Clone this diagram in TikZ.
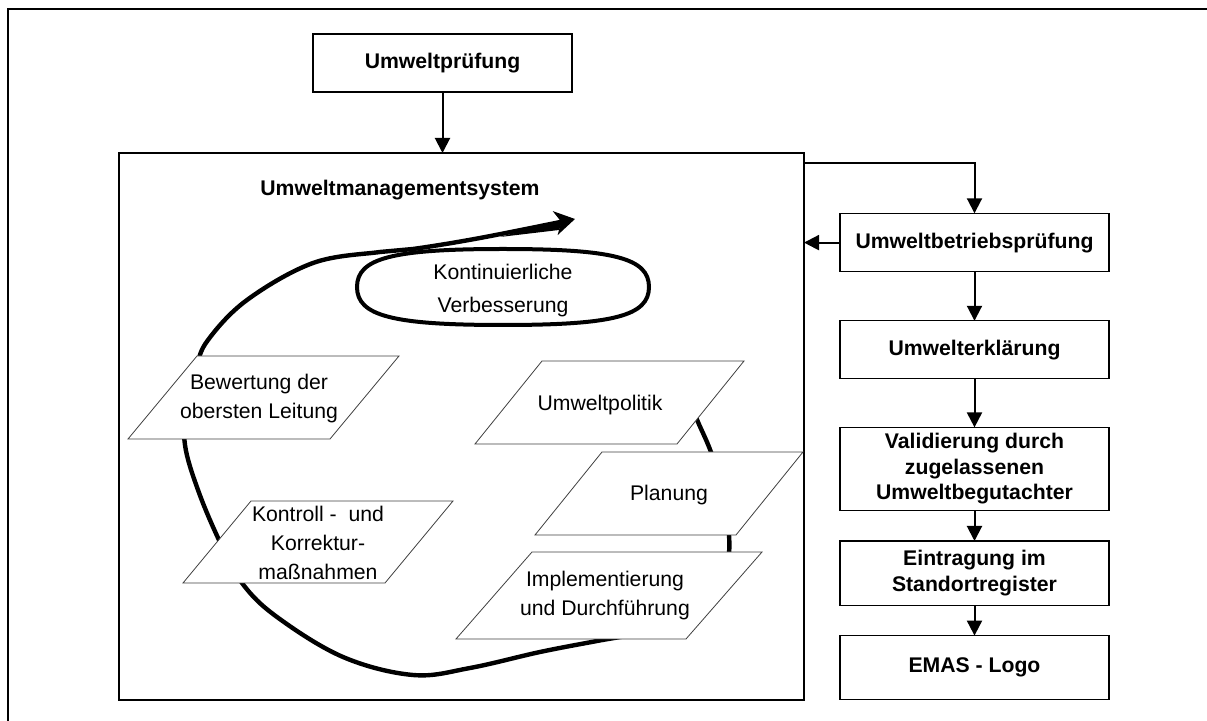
\documentclass[tikz,border=0pt]{standalone}
\usepackage{fontspec}
\setmainfont{Liberation Sans}
\usetikzlibrary{arrows.meta}

\begin{document}
\begin{tikzpicture}[x=0.5pt,y=-0.5pt,
    kasten/.style={draw=black,line width=0.6pt,inner sep=0pt,outer sep=0pt,
      minimum width=134.5pt,align=center,
      font=\fontsize{10.6}{12.75}\selectfont\bfseries},
    raute/.style={draw=black!75,line width=0.4pt,fill=white},
    schrift/.style={font=\fontsize{10.6}{14.5}\selectfont,align=center},
    pfeil/.style={line width=1pt,-{Triangle[length=7.5pt,width=7.5pt]}},
    spirale/.style={line width=2.2pt,line cap=round}
  ]
  \useasboundingbox (0,0) rectangle (1207,721);
  \draw[line width=1.2pt] (8,721) -- (8,9) -- (1207,9);

  % top box and the system frame
  \node[kasten,minimum width=129.5pt,minimum height=29pt] (pruefung)
    at (442.5,63) {Umweltprüfung};
  \node[draw,line width=0.6pt,inner sep=0pt,outer sep=0pt,
    minimum width=342.5pt,minimum height=273.5pt] (ums) at (461.5,426.5) {};
  \node[font=\fontsize{10.6}{12.75}\selectfont\bfseries] (umstitel)
    at (400,190) {Umweltmanagementsystem};

  % improvement loop
  \draw[line width=2pt] (357,287)
    .. controls (357,258) and (393,249) .. (503,249)
    .. controls (613,249) and (649,258) .. (649,287)
    .. controls (649,316) and (613,325) .. (503,325)
    .. controls (393,325) and (357,316) .. (357,287) -- cycle;
  \node[schrift,font=\fontsize{10.6}{16.5}\selectfont] (verbesserung)
    at (503,291) {Kontinuierliche\\Verbesserung};

  \draw[spirale,-{Stealth[length=10pt,width=12pt,inset=3pt]}]
    plot[smooth,tension=0.6] coordinates {
      (688,398) (698,422) (712,455) (723,497) (729,535) (727,562)
      (712,595) (680,620) (640,633) (597,641) (540,652) (470,668)
      (413,675) (343,657) (277,617) (242,583) (219,540) (198,490)
      (185,445) (186,405) (196,368) (208,340) (247,300) (313,263)
      (380,252) (413,249) (480,238) (575,219)};
  \fill (500,237) -- (563,220) -- (559,230) -- cycle;

  % PDCA steps
  \foreach \n/\bx/\by/\w/\s/\h/\tx/\ty/\txt in {
      bewertung/128/439/202/69/83/259/399/{Bewertung der\\obersten Leitung},
      kontroll/183/583/202/68/82/318/543/{Kontroll -\ \ und\\Korrektur-\\maßnahmen},
      politik/475/444/202/67/83/600/405/{Umweltpolitik},
      planung/535/535/201/67/83/669/495/{Planung},
      implement/456/639/230/76/87/605/596/{Implementierung\\und Durchführung}}
  {
    \path[raute] (\bx,\by) -- ++(\w,0) -- ++(\s,-\h) -- ++(-\w,0) -- cycle;
    \node[schrift] (\n) at (\tx,\ty) {\txt};
  }

  % EMAS chain
  \node[kasten,minimum height=29.3pt] (betrieb) at (974.5,242.6)
    {Umweltbetriebsprüfung};
  \node[kasten,minimum height=29pt] (erklaerung) at (974.5,349.8)
    {Umwelterklärung};
  \node[kasten,minimum height=41.5pt] (validierung) at (974.5,468.9)
    {Validierung durch\\zugelassenen\\Umweltbegutachter};
  \node[kasten,minimum height=32.3pt] (eintragung) at (974.5,573.3)
    {Eintragung im\\Standortregister};
  \node[kasten,minimum height=31.9pt] (emas) at (974.5,667.5)
    {EMAS - Logo};

  \draw[pfeil] (pruefung) -- (pruefung |- ums.north);
  \draw[pfeil] ([yshift=-5pt]ums.north east) -| (betrieb.north);
  \draw[pfeil] (betrieb.west) -- (betrieb.west -| ums.east);
  \foreach \a/\b in {betrieb/erklaerung,erklaerung/validierung,
      validierung/eintragung,eintragung/emas}
    \draw[pfeil] (\a) -- (\b);
\end{tikzpicture}
\end{document}
